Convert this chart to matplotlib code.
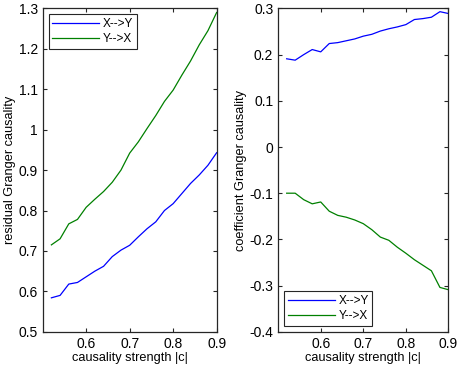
import numpy as np
import matplotlib
matplotlib.use('Agg')
import matplotlib.pyplot as plt

plt.rcParams['font.family'] = ['Liberation Sans', 'DejaVu Sans']

strength = [0.52, 0.54, 0.56, 0.58, 0.60, 0.62, 0.64, 0.66, 0.68, 0.70,
            0.72, 0.74, 0.76, 0.78, 0.80, 0.82, 0.84, 0.86, 0.88, 0.90]

# residual Granger causality
resid_xy = [0.584, 0.590, 0.618, 0.622, 0.636, 0.650, 0.662, 0.686, 0.702, 0.714,
            0.735, 0.755, 0.772, 0.800, 0.817, 0.842, 0.867, 0.888, 0.912, 0.943]
resid_yx = [0.715, 0.730, 0.767, 0.778, 0.808, 0.828, 0.847, 0.870, 0.900, 0.942,
            0.970, 1.003, 1.035, 1.070, 1.098, 1.135, 1.170, 1.210, 1.245, 1.290]

# coefficient Granger causality
coef_xy = [0.191, 0.188, 0.200, 0.211, 0.206, 0.224, 0.226, 0.230, 0.234, 0.240,
           0.244, 0.251, 0.256, 0.260, 0.265, 0.276, 0.278, 0.281, 0.293, 0.289]
coef_yx = [-0.100, -0.100, -0.114, -0.123, -0.119, -0.139, -0.148, -0.152, -0.158, -0.166,
           -0.179, -0.195, -0.202, -0.217, -0.230, -0.244, -0.256, -0.268, -0.304, -0.309]

blue = '#0000ff'
green = '#008000'
edge = '#262626'


def style(ax):
    ax.tick_params(direction='in', top=True, right=True, length=3,
                   labelsize=10, width=0.8, color=edge)
    for s in ax.spines.values():
        s.set_linewidth(0.9)
        s.set_color(edge)
    ax.set_xlim(0.5, 0.9)
    ax.set_xticks([0.6, 0.7, 0.8, 0.9])
    ax.set_xlabel('causality strength |c|', fontsize=9.2, labelpad=1)


def legend(ax, loc):
    leg = ax.legend(loc=loc, fontsize=8.5, fancybox=False, framealpha=1,
                    edgecolor=edge, borderaxespad=0.5, handlelength=4.0,
                    handletextpad=0.3, borderpad=0.3, labelspacing=0.3)
    leg.get_frame().set_linewidth(0.8)


fig = plt.figure(figsize=(4.59, 3.67), dpi=100)

ax1 = fig.add_axes([0.093, 0.096, 0.379, 0.881])
ax1.plot(strength, resid_xy, color=blue, lw=0.9, label='X-->Y')
ax1.plot(strength, resid_yx, color=green, lw=0.9, label='Y-->X')
style(ax1)
ax1.set_ylim(0.5, 1.3)
ax1.set_yticks(np.arange(0.5, 1.31, 0.1))
ax1.set_yticklabels(['0.5', '0.6', '0.7', '0.8', '0.9', '1', '1.1', '1.2', '1.3'])
ax1.set_ylabel('residual Granger causality', fontsize=9.2, labelpad=2)
legend(ax1, 'upper left')

ax2 = fig.add_axes([0.606, 0.096, 0.371, 0.881])
ax2.plot(strength, coef_xy, color=blue, lw=0.9, label='X-->Y')
ax2.plot(strength, coef_yx, color=green, lw=0.9, label='Y-->X')
style(ax2)
ax2.set_ylim(-0.4, 0.3)
ax2.set_yticks(np.arange(-0.4, 0.31, 0.1))
ax2.set_yticklabels(['-0.4', '-0.3', '-0.2', '-0.1', '0', '0.1', '0.2', '0.3'])
ax2.set_ylabel('coefficient Granger causality', fontsize=9.2, labelpad=2)
legend(ax2, 'lower left')

fig.savefig('out.png', dpi=100)
